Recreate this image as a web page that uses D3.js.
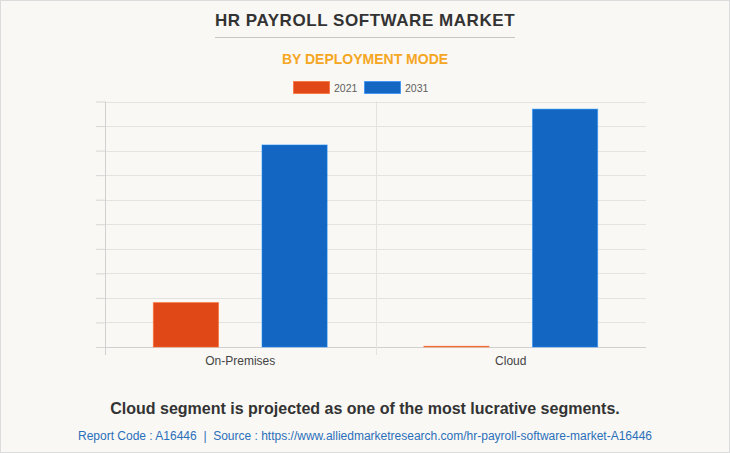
<!DOCTYPE html>
<html>
<head>
<meta charset="utf-8">
<script src="https://cdnjs.cloudflare.com/ajax/libs/d3/7.8.5/d3.min.js"></script>
<style>
  html, body { margin: 0; padding: 0; background: #fff; }
  svg { display: block; font-family: "Liberation Sans", Arial, sans-serif; }
</style>
</head>
<body>
<svg id="chart" width="730" height="453"></svg>
<script>

// chart data (no axis labels, so units are relative)
var categories = ['On-Premises', 'Cloud'];
var years = ['2021', '2031'];
var values2021 = [1.81, 0.03];
var values2031 = [8.23, 9.69];
var colors = ['#e14817', '#1366c1'];
var yTicks = [0, 1, 2, 3, 4, 5, 6, 7, 8, 9, 10];

var W = 730, H = 453;
var margin = {top: 101.5, right: 84, bottom: 106, left: 105};

var svg = d3.select('#chart');

svg.append('rect')
  .attr('x', 0.5).attr('y', 0.5)
  .attr('width', W - 1).attr('height', H - 1)
  .attr('fill', '#f9f8f4')
  .attr('stroke', '#dcdcdc');

// titles
svg.append('text')
  .attr('x', 365).attr('y', 26)
  .attr('text-anchor', 'middle')
  .attr('font-size', 17).attr('font-weight', 'bold')
  .attr('fill', '#333')
  .attr('letter-spacing', 0.55)
  .text('HR PAYROLL SOFTWARE MARKET');

svg.append('line')
  .attr('x1', 215).attr('x2', 515)
  .attr('y1', 37.5).attr('y2', 37.5)
  .attr('stroke', '#c8c8c8');

svg.append('text')
  .attr('x', 365).attr('y', 64)
  .attr('text-anchor', 'middle')
  .attr('font-size', 14).attr('font-weight', 'bold')
  .attr('fill', '#f5a623')
  .text('BY DEPLOYMENT MODE');

// legend
var legend = svg.append('g');
var legendX = [293, 364];
years.forEach(function(y, i) {
  legend.append('rect')
    .attr('x', legendX[i] + 0.5).attr('y', 81.5)
    .attr('width', 36).attr('height', 12)
    .attr('fill', colors[i])
    .attr('stroke', d3.color(colors[i]).brighter(0.8))
    .attr('stroke-opacity', 0.6);
  legend.append('text')
    .attr('x', legendX[i] + 41).attr('y', 91.5)
    .attr('font-size', 10.5)
    .attr('fill', '#5f5f5f')
    .text(y);
});

// scales
var x0 = d3.scaleBand()
  .domain(categories)
  .range([margin.left, W - margin.right])
  .padding(0);

var x1 = d3.scaleBand()
  .domain(years)
  .range([0, x0.bandwidth()])
  .paddingInner(0.4)
  .paddingOuter(0.445);

var y = d3.scaleLinear()
  .domain([0, 10])
  .range([H - margin.bottom, margin.top]);

// grid + ticks
var yAxis = d3.axisLeft(y)
  .tickValues(yTicks)
  .tickSize(9)
  .tickFormat('');

svg.append('g')
  .attr('transform', 'translate(' + margin.left + ',0)')
  .call(yAxis)
  .call(function(g) {
    g.select('.domain').remove();
    g.selectAll('.tick line').attr('stroke', '#d6d6d6');
  });

svg.append('g')
  .selectAll('line')
  .data(yTicks)
  .join('line')
  .attr('x1', margin.left).attr('x2', W - margin.right)
  .attr('y1', function(d) { return Math.round(y(d)) + 0.5; })
  .attr('y2', function(d) { return Math.round(y(d)) + 0.5; })
  .attr('stroke', function(d) { return d === 0 ? '#d0d0d0' : '#e3e3e0'; });

// vertical separators (left axis + between categories)
var seps = [x0.range()[0], x0(categories[1])];
svg.append('g')
  .selectAll('line')
  .data(seps)
  .join('line')
  .attr('x1', function(d) { return Math.round(d) + 0.5; })
  .attr('x2', function(d) { return Math.round(d) + 0.5; })
  .attr('y1', margin.top).attr('y2', H - margin.bottom + 8)
  .attr('stroke', function(d, i) { return i === 0 ? '#d0d0d0' : '#e3e3e0'; });

// bars
var rows = categories.map(function(c, i) {
  return {cat: c, vals: [values2021[i], values2031[i]]};
});

var groups = svg.append('g')
  .selectAll('g')
  .data(rows)
  .join('g')
  .attr('transform', function(d) { return 'translate(' + x0(d.cat) + ',0)'; });

groups.selectAll('rect')
  .data(function(d) { return d.vals.map(function(v, i) { return {year: years[i], v: v, i: i}; }); })
  .join('rect')
  .attr('x', function(d) { return x1(d.year); })
  .attr('width', x1.bandwidth())
  .attr('y', function(d) { return y(d.v); })
  .attr('height', function(d) { return y(0) - y(d.v); })
  .attr('fill', function(d) { return colors[d.i]; })
  .attr('stroke', function(d) { return d3.color(colors[d.i]).brighter(0.9); })
  .attr('stroke-opacity', 0.5)
  .attr('stroke-width', 1);

// category labels
svg.append('g')
  .selectAll('text')
  .data(categories)
  .join('text')
  .attr('x', function(d) { return x0(d) + x0.bandwidth() / 2; })
  .attr('y', 364.5)
  .attr('text-anchor', 'middle')
  .attr('font-size', 12)
  .attr('fill', '#444')
  .text(function(d) { return d; });

// footnotes
svg.append('text')
  .attr('x', 365).attr('y', 414)
  .attr('text-anchor', 'middle')
  .attr('font-size', 16).attr('font-weight', 'bold')
  .attr('fill', '#333')
  .text('Cloud segment is projected as one of the most lucrative segments.');

svg.append('text')
  .attr('x', 365).attr('y', 440)
  .attr('text-anchor', 'middle')
  .attr('font-size', 12)
  .attr('fill', '#2a6fba')
  .text('Report Code : A16446  |  Source : https://www.alliedmarketresearch.com/hr-payroll-software-market-A16446')
  .attr('xml:space', 'preserve')
  .style('white-space', 'pre');

</script>
</body>
</html>
